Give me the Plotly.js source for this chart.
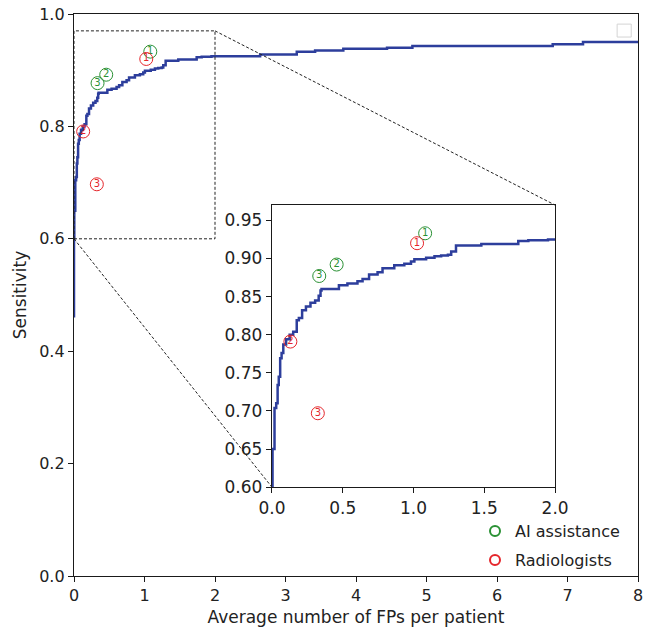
<!DOCTYPE html>
<html>
<head>
<meta charset="utf-8">
<script src="https://cdn.plot.ly/plotly-3.0.1.min.js"></script>
<style>html,body{margin:0;padding:0;background:#fff}#chart{width:652px;height:632px}</style>
</head>
<body>
<div id="chart"></div>
<script>
// FROC curve (step corners)
const frocX = [0, 0, 0.004, 0.018, 0.030, 0.040, 0.048, 0.058, 0.068, 0.080, 0.100, 0.125, 0.150, 0.175, 0.190, 0.213, 0.240, 0.272, 0.305, 0.330, 0.343, 0.350, 0.473, 0.533, 0.604, 0.640, 0.686, 0.746, 0.781, 0.864, 0.935, 0.982, 1.006, 1.089, 1.148, 1.195, 1.243, 1.266, 1.300, 1.479, 1.740, 1.811, 1.950, 2.640, 3.160, 3.420, 3.820, 4.440, 4.800, 6.790, 7.220, 8.000];
const frocY = [0.46, 0.60, 0.650, 0.704, 0.710, 0.734, 0.745, 0.769, 0.776, 0.787, 0.794, 0.800, 0.804, 0.819, 0.822, 0.832, 0.837, 0.842, 0.845, 0.851, 0.858, 0.860, 0.865, 0.867, 0.870, 0.873, 0.879, 0.882, 0.887, 0.891, 0.893, 0.896, 0.899, 0.901, 0.903, 0.904, 0.905, 0.909, 0.917, 0.919, 0.923, 0.924, 0.925, 0.928, 0.933, 0.935, 0.938, 0.940, 0.943, 0.946, 0.950, 0.950];

// Reader operating points
const readerLabels = ["1", "2", "3"];
const aiX = [1.082, 0.457, 0.334];
const aiY = [0.933, 0.892, 0.877];
const radX = [1.025, 0.130, 0.324];
const radY = [0.920, 0.791, 0.697];

// Axes
const mainXRange = [0, 8];
const mainYRange = [0, 1.0];
const insetXRange = [0, 2.0];
const insetYRange = [0.6, 0.97];
const mainXTicks = [0, 1, 2, 3, 4, 5, 6, 7, 8];
const mainYTicks = [0.0, 0.2, 0.4, 0.6, 0.8, 1.0];
const insetXTicks = [0.0, 0.5, 1.0, 1.5, 2.0];
const insetYTicks = [0.60, 0.65, 0.70, 0.75, 0.80, 0.85, 0.90, 0.95];

const seriesNames = ["AI assistance", "Radiologists"];
const GREEN = '#2a9134', RED = '#e5262b', BLUE = '#2d3e9c';
const FONT = 'DejaVu Sans';

const insetDomX = [0.351, 0.853];
const insetDomY = [0.158, 0.660];

function readerTrace(x, y, color, xa, ya) {
  return {
    x: x, y: y, xaxis: xa, yaxis: ya, type: 'scatter', mode: 'markers+text',
    text: readerLabels, textposition: 'middle center',
    textfont: {family: FONT, size: 10, color: color},
    marker: {symbol: 'circle-open', size: 13, color: color, line: {width: 1, color: color}},
    showlegend: false, hoverinfo: 'skip', cliponaxis: false
  };
}

const traces = [
  {x: frocX, y: frocY, type: 'scatter', mode: 'lines', line: {shape: 'hv', color: BLUE, width: 2.5}, xaxis: 'x', yaxis: 'y', showlegend: false},
  readerTrace(aiX, aiY, GREEN, 'x', 'y'),
  readerTrace(radX, radY, RED, 'x', 'y'),
  {x: frocX, y: frocY, type: 'scatter', mode: 'lines', line: {shape: 'hv', color: BLUE, width: 2.5}, xaxis: 'x2', yaxis: 'y2', showlegend: false},
  readerTrace(aiX, aiY, GREEN, 'x2', 'y2'),
  readerTrace(radX, radY, RED, 'x2', 'y2'),
  {x: [null], y: [null], type: 'scatter', mode: 'markers', name: seriesNames[0], legend: 'legend', marker: {symbol: 'circle-open', size: 10, color: GREEN, line: {width: 2, color: GREEN}}, xaxis: 'x', yaxis: 'y'},
  {x: [null], y: [null], type: 'scatter', mode: 'markers', name: seriesNames[1], legend: 'legend2', marker: {symbol: 'circle-open', size: 10, color: RED, line: {width: 2, color: RED}}, xaxis: 'x', yaxis: 'y'}
];

const axisCommon = {
  showgrid: false, zeroline: false, showline: true, mirror: true,
  linecolor: '#1a1a1a', linewidth: 1.2, ticks: 'outside', ticklen: 5, tickcolor: '#1a1a1a',
  tickfont: {family: FONT, size: 16, color: '#222'}
};
const insetTickFont = {family: FONT, size: 17, color: '#222'};
const legendCommon = {x: 0.711, xanchor: 'left', yanchor: 'middle', bgcolor: 'rgba(0,0,0,0)', borderwidth: 0,
  font: {family: FONT, size: 16, color: '#222'}, itemwidth: 30};
const DASH = {color: '#222', width: 1, dash: '3px,2px'};

const layout = {
  width: 652, height: 632,
  margin: {l: 74, r: 14, t: 14, b: 56},
  paper_bgcolor: '#fff', plot_bgcolor: '#fff',
  font: {family: FONT, color: '#222'},
  xaxis: Object.assign({}, axisCommon, {range: mainXRange, tickvals: mainXTicks, tickformat: 'd',
    title: {text: 'Average number of FPs per patient', font: {family: FONT, size: 17, color: '#222'}, standoff: 6}}),
  yaxis: Object.assign({}, axisCommon, {range: mainYRange, tickvals: mainYTicks, tickformat: '.1f',
    title: {text: 'Sensitivity', font: {family: FONT, size: 17, color: '#222'}, standoff: 8}}),
  xaxis2: Object.assign({}, axisCommon, {domain: insetDomX, anchor: 'y2', range: insetXRange, tickvals: insetXTicks, tickformat: '.1f', tickfont: insetTickFont}),
  yaxis2: Object.assign({}, axisCommon, {domain: insetDomY, anchor: 'x2', range: insetYRange, tickvals: insetYTicks, tickformat: '.2f', tickfont: insetTickFont}),
  showlegend: true,
  legend: Object.assign({}, legendCommon, {y: 0.080}),
  legend2: Object.assign({}, legendCommon, {y: 0.0285}),
  shapes: [
    {type: 'rect', xref: 'x', yref: 'y', x0: insetXRange[0], x1: insetXRange[1], y0: insetYRange[0], y1: insetYRange[1], line: DASH},
    {type: 'line', xref: 'paper', yref: 'paper', x0: insetXRange[1] / mainXRange[1], y0: insetYRange[1], x1: insetDomX[1], y1: insetDomY[1], line: DASH},
    {type: 'line', xref: 'paper', yref: 'paper', x0: insetXRange[0] / mainXRange[1], y0: insetYRange[0], x1: insetDomX[0], y1: insetDomY[0], line: DASH},
    {type: 'rect', xref: 'paper', yref: 'paper', x0: 0.963, x1: 0.988, y0: 0.959, y1: 0.982, line: {color: '#d4d4d4', width: 1}}
  ]
};

Plotly.newPlot('chart', traces, layout, {displayModeBar: false, staticPlot: true});
</script>
</body>
</html>
